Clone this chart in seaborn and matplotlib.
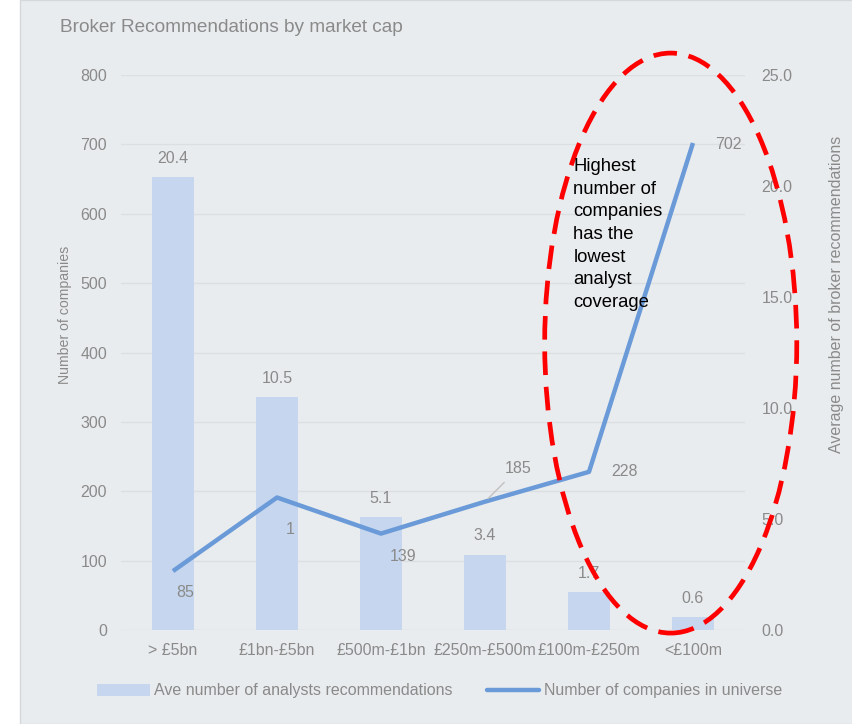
import numpy as np
import matplotlib.pyplot as plt
import matplotlib.patches as mpatches
from matplotlib.lines import Line2D
import seaborn as sns

# 데이터
categories = ['> £5bn', '£1bn-£5bn', '£500m-£1bn', '£250m-£500m', '£100m-£250m', '<£100m']
avg_recs = [20.4, 10.5, 5.1, 3.4, 1.7, 0.6]          # 막대 (오른쪽 축)
n_companies = [85, 191, 139, 185, 228, 702]           # 선 (왼쪽 축)
line_labels = ['85', '1', '139', '185', '228', '702']  # 그림에 보이는 그대로

title = 'Broker Recommendations by market cap'
note = 'Highest\nnumber of\ncompanies\nhas the\nlowest\nanalyst\ncoverage'

# 스타일
sns.set_style('white')
plt.rcParams['font.family'] = ['Liberation Sans', 'DejaVu Sans']

bg = '#E9ECEE'
grey = '#8A8A8A'
bar_col = '#C5D6EE'
line_col = '#6A9AD8'
fs = 11.5

fig = plt.figure(figsize=(8.52, 7.24), dpi=100, facecolor='white')
fig.patches.append(mpatches.Rectangle((0.0235, 0), 1, 1, transform=fig.transFigure,
                                      facecolor=bg, edgecolor='#D5D8DA', lw=1, zorder=-10))

rect = [0.142, 0.1298, 0.7324, 0.7666]
ax = fig.add_axes(rect)          # 격자 + 왼쪽 눈금
ax.set_facecolor('none')
axb = ax.twinx()                  # 막대
axl = ax.twinx()                  # 선
ax.set_zorder(1); axb.set_zorder(2); axl.set_zorder(3)

x = np.arange(len(categories))

# 막대
sns.barplot(x=x, y=avg_recs, ax=axb, color=bar_col, width=0.4, saturation=1,
            edgecolor='none', linewidth=0)
axb.bar_label(axb.containers[0], labels=[f'{v:.1f}' for v in avg_recs],
              padding=8, color=grey, fontsize=fs)

# 선
sns.lineplot(x=x, y=n_companies, ax=axl, color=line_col, lw=3.2, sort=False,
             solid_capstyle='butt')

offsets = [(12, -21), (13, -32), (22, -23), (33, 33), (36, 0), (35, -2)]
leader = [False, False, False, True, False, False]
for xi, yi, lab, off, ld in zip(x, n_companies, line_labels, offsets, leader):
    kw = {}
    if ld:
        kw['arrowprops'] = dict(arrowstyle='-', color='#C0C0C0', lw=1, shrinkA=3, shrinkB=3)
    axl.annotate(lab, (xi, yi), xytext=off, textcoords='offset pixels',
                 ha='center', va='center', color=grey, fontsize=fs, **kw)

# 축 설정
for a in (ax, axb, axl):
    a.set_xlim(-0.5, len(categories) - 0.5)
    for s in a.spines.values():
        s.set_visible(False)

ax.set_ylim(0, 800)
axl.set_ylim(0, 800)
axb.set_ylim(0, 25)
ax.set_yticks(np.arange(0, 801, 100))
axb.set_yticks(np.arange(0, 25.1, 5))
axb.set_yticklabels([f'{v:.1f}' for v in np.arange(0, 25.1, 5)])
axl.yaxis.set_visible(False)
axb.set_xlabel('')
axl.set_xlabel('')

ax.grid(axis='y', color='#DCDFE2', lw=1)
ax.set_xticks(x)
ax.set_xticklabels(categories)
ax.tick_params(axis='both', length=0, colors=grey, labelsize=fs)
ax.tick_params(axis='y', pad=10)
ax.tick_params(axis='x', pad=9)
axb.tick_params(axis='y', length=0, colors=grey, labelsize=fs, pad=12)

ax.set_ylabel('Number of companies', color=grey, fontsize=10.2)
ax.yaxis.set_label_coords(-0.078, 0.568)
axb.set_ylabel('Average number of broker recommendations', color=grey, fontsize=11.5)
axb.yaxis.set_label_coords(1.134, 0.605)

# 강조 타원 + 메모
ell = mpatches.Ellipse((0.881, 0.517), 0.404, 1.045, transform=axl.transAxes,
                       fill=False, edgecolor='#FF0000', lw=3.4, linestyle=(0, (5, 2.5)),
                       clip_on=False, zorder=5)
axl.add_patch(ell)
axl.text(0.725, 0.850, note, transform=axl.transAxes, ha='left', va='top',
         fontsize=13.3, color='black', linespacing=1.43, zorder=6)

fig.text(60 / 852, 1 - 27 / 724, title, ha='left', va='center', fontsize=13.7, color=grey)

# 범례
handles = [mpatches.Patch(facecolor=bar_col, edgecolor='none'),
           Line2D([], [], color=line_col, lw=3.2)]
fig.legend(handles, ['Ave number of analysts recommendations', 'Number of companies in universe'],
           loc='center', bbox_to_anchor=(0.516, 1 - 691 / 724), ncol=2, frameon=False,
           fontsize=fs, labelcolor=grey, handlelength=3.3, handletextpad=0.3,
           columnspacing=2.1)

plt.savefig('out.png', dpi=100, facecolor=fig.get_facecolor())
